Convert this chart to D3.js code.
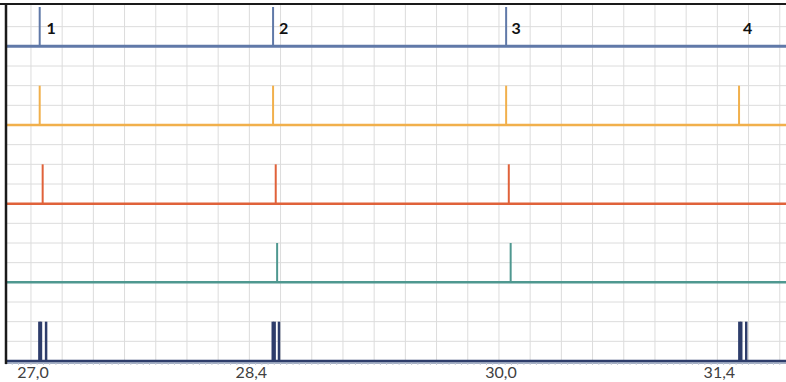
<!DOCTYPE html>
<html>
<head>
<meta charset="utf-8">
<script src="https://d3js.org/d3.v7.min.js"></script>
<style>
  body { margin: 0; background: #fff; }
</style>
</head>
<body>
<svg width="786" height="382"></svg>
<script>
// tick values on the time axis and their labels (comma decimals)
const tickValues = [27.0, 28.4, 30.0, 31.4];
const tickLabels = ['27,0', '28,4', '30,0', '31,4'];

// beat numbers written next to the top trace
const beatLabels = ['1', '2', '3', '4'];
const beatLabelTimes = [27.10, 28.59, 30.08, 31.565];

// spike times for each trace, top to bottom
const blueSpikes = [27.056, 28.552, 30.046];
const orangeSpikes = [27.056, 28.552, 30.046, 31.539];
const redSpikes = [27.075, 28.569, 30.063];
const tealSpikes = [28.578, 30.075];
const navySpikes = [27.054, 27.064, 27.097, 28.550, 28.562, 28.590, 31.541, 31.553, 31.585];

const traceNames = ['blue', 'orange', 'red', 'teal', 'navy'];
const traceOffsets = [16, 12, 8, 4, 0];
const spikeHeight = 2;

const svg = d3.select('svg');
const width = +svg.attr('width');
const height = +svg.attr('height');

const plotLeft = 6, plotTop = 7, plotBottom = 361;

const x = d3.scaleLinear()
  .domain([26.84, 31.84])
  .range([plotLeft, width]);

const y = d3.scaleLinear()
  .domain([0, 18])
  .range([plotBottom, plotTop]);

svg.append('rect')
  .attr('width', width)
  .attr('height', height)
  .attr('fill', '#fff');

// grid
const grid = svg.append('g');

grid.selectAll('.vgrid')
  .data(d3.range(27.0 - 0.8, 32.0, 0.2).filter(d => x(d) > plotLeft + 1 && x(d) < width))
  .join('line')
  .attr('x1', d => x(d))
  .attr('x2', d => x(d))
  .attr('y1', plotTop - 3)
  .attr('y2', plotBottom)
  .attr('stroke', '#dcdcdc')
  .attr('stroke-width', 1);

grid.selectAll('.hgrid')
  .data(d3.range(1, 18))
  .join('line')
  .attr('x1', plotLeft)
  .attr('x2', width)
  .attr('y1', d => y(d))
  .attr('y2', d => y(d))
  .attr('stroke', '#dcdcdc')
  .attr('stroke-width', 1);

// traces
const traceData = [blueSpikes, orangeSpikes, redSpikes, tealSpikes, navySpikes];
const traceColors = ['#6079a8', '#f1b04c', '#e0623a', '#4f9890', '#2e3d6b'];
const baseWidths = [3, 2.5, 2.5, 2.5, 2.5];
const spikeWidths = [2, 2, 2, 2, 2.5];

const plot = svg.append('g');

traceData.forEach((spikes, i) => {
  const base = traceOffsets[i];
  const g = plot.append('g').attr('class', traceNames[i]);

  g.append('line')
    .attr('x1', plotLeft)
    .attr('x2', width)
    .attr('y1', y(base))
    .attr('y2', y(base))
    .attr('stroke', traceColors[i])
    .attr('stroke-width', baseWidths[i]);

  g.selectAll('.spike')
    .data(spikes)
    .join('line')
    .attr('x1', d => x(d))
    .attr('x2', d => x(d))
    .attr('y1', y(base))
    .attr('y2', y(base + spikeHeight))
    .attr('stroke', traceColors[i])
    .attr('stroke-width', spikeWidths[i]);
});

// beat numbers
svg.selectAll('.beat')
  .data(beatLabels)
  .join('text')
  .attr('x', (d, i) => x(beatLabelTimes[i]))
  .attr('y', 34)
  .attr('font-family', 'Lato, sans-serif')
  .attr('font-weight', 'bold')
  .attr('font-size', 16)
  .attr('fill', '#111')
  .text(d => d);

// x axis with minor ticks
const axis = svg.append('g');

axis.append('line')
  .attr('x1', plotLeft)
  .attr('x2', width)
  .attr('y1', plotBottom + 2)
  .attr('y2', plotBottom + 2)
  .attr('stroke', '#8593b0')
  .attr('stroke-width', 1.5);

axis.selectAll('.minor')
  .data(d3.range(26.84, 31.84, 0.04))
  .join('line')
  .attr('x1', d => x(d))
  .attr('x2', d => x(d))
  .attr('y1', plotBottom + 2)
  .attr('y2', plotBottom + 4)
  .attr('stroke', '#c3c9d6')
  .attr('stroke-width', 1);

axis.selectAll('.tick-label')
  .data(tickValues)
  .join('text')
  .attr('x', d => x(d) + 2)
  .attr('y', 378)
  .attr('text-anchor', 'middle')
  .attr('font-family', 'Lato, sans-serif')
  .attr('font-size', 16)
  .attr('fill', '#404040')
  .text((d, i) => tickLabels[i]);

// frame: top and left borders
svg.append('line')
  .attr('x1', 0)
  .attr('x2', width)
  .attr('y1', 4)
  .attr('y2', 4)
  .attr('stroke', '#1a1a1a')
  .attr('stroke-width', 2);

svg.append('line')
  .attr('x1', plotLeft)
  .attr('x2', plotLeft)
  .attr('y1', 3)
  .attr('y2', plotBottom + 3)
  .attr('stroke', '#1a1a1a')
  .attr('stroke-width', 2.5);
</script>
</body>
</html>
